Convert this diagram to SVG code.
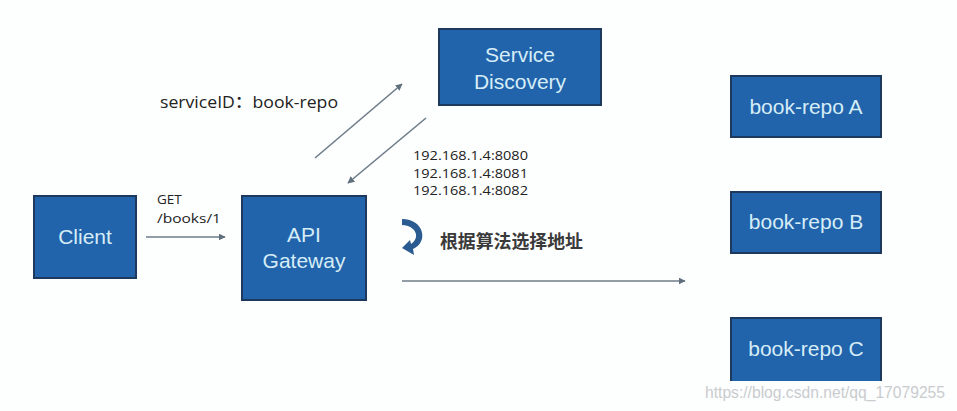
<svg xmlns="http://www.w3.org/2000/svg" width="957" height="411" viewBox="0 0 957 411">
<defs>
<style>
.box{fill:#2164ab;stroke:#1d3a5e;stroke-width:2}
.bt{font-family:"Liberation Sans",Arial,sans-serif;font-size:21px;fill:#d6edf7;text-anchor:middle}
.lbl{font-family:"Open Sans","Noto Sans CJK SC",sans-serif;fill:#222222}
.conn{stroke:#6e7c88;stroke-width:1.6;fill:none;marker-end:url(#ah)}
</style>
<marker id="ah" viewBox="0 0 10 10" refX="9" refY="5" markerWidth="7" markerHeight="7" markerUnits="userSpaceOnUse" orient="auto">
<path d="M0,0 L10,5 L0,10 Z" fill="#5f6f7c"/>
</marker>
</defs>
<rect width="957" height="411" fill="#fdfefe"/>

<g id="client"><rect class="box" x="34" y="196" width="102" height="82"/><text class="bt" x="85" y="244">Client</text></g>
<g id="gateway"><rect class="box" x="242" y="196" width="124" height="104"/><text class="bt" x="304" y="242">API</text><text class="bt" x="304" y="268">Gateway</text></g>
<g id="discovery"><rect class="box" x="439" y="29" width="162" height="76"/><text class="bt" x="520" y="62">Service</text><text class="bt" x="520" y="89">Discovery</text></g>
<g id="repoA"><rect class="box" x="731" y="76" width="150" height="61"/><text class="bt" x="806" y="114">book-repo A</text></g>
<g id="repoB"><rect class="box" x="731" y="192" width="150" height="61"/><text class="bt" x="806" y="229">book-repo B</text></g>
<g id="repoC"><rect class="box" x="731" y="318" width="150" height="70"/><text class="bt" x="806" y="356">book-repo C</text></g>

<g id="connectors">
<line class="conn" x1="146" y1="237" x2="225" y2="237"/>
<line class="conn" x1="315" y1="158" x2="402" y2="84"/>
<line class="conn" x1="426" y1="118" x2="348" y2="183"/>
<line class="conn" x1="402" y1="281" x2="685" y2="281"/>
</g>

<g id="labels">
<text class="lbl" x="157" y="204" font-size="13.5" font-weight="500">GET</text>
<text class="lbl" x="157" y="223" font-size="13.5" font-weight="500" textLength="64" lengthAdjust="spacingAndGlyphs">/books/1</text>
<text class="lbl" x="160" y="108" font-size="17" font-weight="500" textLength="178" lengthAdjust="spacingAndGlyphs">serviceID：book-repo</text>
<text class="lbl" x="413" y="160" font-size="13.5" font-weight="500" textLength="115" lengthAdjust="spacingAndGlyphs">192.168.1.4:8080</text>
<text class="lbl" x="413" y="177.5" font-size="13.5" font-weight="500" textLength="115" lengthAdjust="spacingAndGlyphs">192.168.1.4:8081</text>
<text class="lbl" x="413" y="195" font-size="13.5" font-weight="500" textLength="115" lengthAdjust="spacingAndGlyphs">192.168.1.4:8082</text>
<text x="440" y="248" font-family="'Noto Sans CJK SC',sans-serif" font-size="18" font-weight="bold" fill="#3a3a3a" textLength="143" lengthAdjust="spacingAndGlyphs">根据算法选择地址</text>
</g>

<g id="cycle-icon">
<path d="M402,219 C424,219 429,242 413,249 L414,255 L402,248 L410,240 L411,244 C420,238 417,226 402,225 Z" fill="#2b5c91"/>
</g>

<rect x="0" y="381" width="957" height="30" fill="#fdfefe"/>
<text x="705" y="398" font-family="'Liberation Sans',Arial,sans-serif" font-size="16" fill="#c9cccf" textLength="240" lengthAdjust="spacingAndGlyphs">https://blog.csdn.net/qq_17079255</text>
</svg>
